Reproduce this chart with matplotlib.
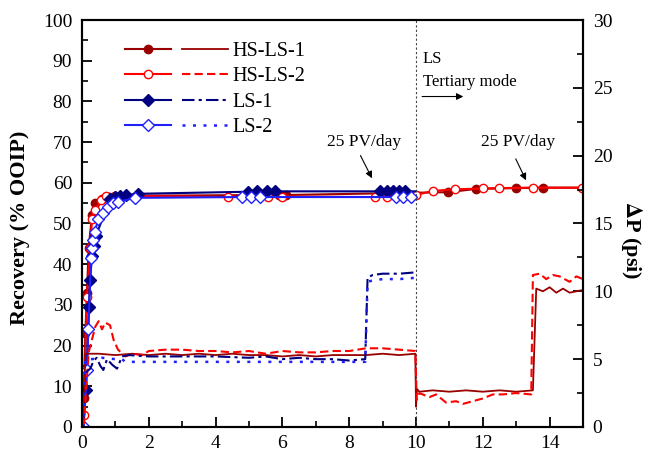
import numpy as np
import matplotlib
matplotlib.use("Agg")
import matplotlib.pyplot as plt
from matplotlib.ticker import MultipleLocator
from matplotlib.legend_handler import HandlerTuple

plt.rcParams['font.family'] = ['Liberation Serif', 'DejaVu Serif']
plt.rcParams['mathtext.fontset'] = 'stix'

# recovery (% OOIP) vs PV injected
hs1_x = [0.05, 0.1, 0.15, 0.2, 0.3, 0.4, 0.6, 0.8, 1.0, 5.9, 6.1, 10.97, 11.8, 13.0, 13.8]
hs1_y = [7, 23, 33, 44, 52, 55, 56, 56.5, 56.8, 57, 57, 57.7, 58.5, 58.7, 58.8]
hs2_x = [0.05, 0.15, 0.25, 0.3, 0.39, 0.57, 0.72, 1.0, 4.37, 5.57, 5.99, 8.77, 9.13,
         10.0, 10.5, 11.17, 12.0, 12.5, 13.5, 14.97]
hs2_y = [3, 32, 44, 51, 53.3, 55.8, 56.7, 56.8, 56.5, 56.6, 56.6, 56.5, 56.6,
         57, 58, 58.4, 58.6, 58.7, 58.8, 58.8]
ls1_x = [0.12, 0.21, 0.24, 0.3, 0.36, 0.42, 0.84, 0.99, 1.14, 1.32, 1.68,
         4.97, 5.24, 5.54, 5.78, 8.92, 9.12, 9.3, 9.5, 9.68]
ls1_y = [9, 29.5, 36, 42, 44.5, 47, 56, 56.5, 56.8, 57, 57.3,
         57.8, 57.9, 57.9, 57.9, 57.9, 57.9, 57.9, 57.9, 57.9]
ls2_x = [0.05, 0.15, 0.19, 0.27, 0.29, 0.33, 0.39, 0.48, 0.63, 0.78, 0.93, 1.08, 1.59,
         4.78, 5.07, 5.33, 9.4, 9.62, 9.86]
ls2_y = [0, 14, 24, 41.5, 44, 46, 48, 51, 52.5, 54, 55, 55.3, 56.3,
         56.5, 56.5, 56.5, 56.5, 56.5, 56.6]

# pressure drop (psi)
dp1_x = [0.05, 0.1, 0.5, 1.0, 1.5, 2.0, 2.5, 3.0, 3.5, 4.0, 4.5, 5.0, 5.5, 6.0, 6.5, 7.0,
         7.5, 8.0, 8.5, 9.0, 9.5, 9.98, 10.0, 10.03, 10.1, 10.5, 11.0, 11.5, 12.0, 12.5,
         13.0, 13.5, 13.6, 13.8, 14.0, 14.2, 14.4, 14.6, 14.8, 15.0]
dp1_y = [0, 5.4, 5.4, 5.3, 5.4, 5.3, 5.4, 5.3, 5.4, 5.3, 5.4, 5.3, 5.3, 5.2, 5.3, 5.2,
         5.3, 5.3, 5.3, 5.4, 5.3, 5.4, 1.5, 2.8, 2.6, 2.7, 2.6, 2.7, 2.6, 2.7,
         2.6, 2.7, 10.2, 10.0, 10.3, 9.9, 10.2, 9.9, 10.0, 10.1]
dp2_x = [0.05, 0.2, 0.4, 0.5, 0.6, 0.7, 0.84, 0.95, 1.08, 1.3, 1.5, 1.8, 2.0, 2.5, 3.0,
         3.5, 4.0, 4.5, 5.0, 5.5, 6.0, 6.5, 7.0, 7.5, 8.0, 8.5, 9.0, 9.5, 9.98, 10.02,
         10.1, 10.4, 10.6, 10.9, 11.2, 11.4, 11.7, 12.0, 12.3, 12.6, 13.0, 13.45, 13.5,
         13.7, 13.9, 14.1, 14.3, 14.6, 14.8, 15.0]
dp2_y = [0, 5.5, 7.4, 7.8, 7.2, 7.7, 7.5, 6.4, 5.7, 5.2, 5.4, 5.3, 5.6, 5.7, 5.7,
         5.6, 5.6, 5.5, 5.6, 5.4, 5.6, 5.5, 5.5, 5.6, 5.6, 5.8, 5.8, 5.7, 5.6, 2.0,
         2.5, 2.2, 2.4, 1.8, 1.9, 1.7, 1.9, 2.1, 2.4, 2.4, 2.5, 2.4, 11.2,
         11.3, 10.9, 11.2, 11.1, 10.7, 11.1, 10.9]
dp3_x = [0.1, 0.25, 0.35, 0.44, 0.55, 0.64, 0.75, 0.9, 1.05, 1.2, 1.4, 2.0, 3.0, 4.0,
         5.0, 5.5, 6.0, 6.5, 7.0, 7.5, 8.0, 8.48, 8.55, 8.7, 9.0, 9.5, 10.0]
dp3_y = [4.0, 4.3, 4.9, 5.1, 4.5, 4.2, 5.0, 4.6, 4.3, 5.2, 5.3, 5.2, 5.2, 5.2,
         5.1, 5.2, 5.0, 5.1, 5.0, 5.0, 4.9, 5.0, 11.0, 11.2, 11.3, 11.3, 11.4]
dp4_x = [0.05, 0.1, 0.3, 0.6, 1.0, 1.2, 1.3, 2.0, 4.0, 6.0, 8.0, 8.48, 8.55, 8.7,
         9.0, 9.5, 10.0]
dp4_y = [0, 5.0, 5.0, 5.1, 5.0, 5.0, 4.8, 4.8, 4.8, 4.8, 4.8, 4.8, 10.7, 10.8,
         10.9, 10.9, 11.0]

c_hs1 = '#990000'
c_hs2 = '#ff0000'
c_ls1 = '#000080'
c_ls2 = '#2020ff'

fig = plt.figure(figsize=(6.48, 4.61), dpi=100)
ax = fig.add_axes([0.1265, 0.0738, 0.7732, 0.8828])
ax2 = ax.twinx()

r1, = ax.plot(hs1_x + [15.0], hs1_y + [58.8], '-o', color=c_hs1, lw=1.5, ms=6,
              markevery=list(range(len(hs1_x))), mfc=c_hs1, mec=c_hs1)
r2, = ax.plot(hs2_x, hs2_y, '-o', color=c_hs2, lw=1.5, ms=6, mfc='white', mec=c_hs2)
r3, = ax.plot(ls1_x + [10.0], ls1_y + [57.9], '-D', color=c_ls1, lw=1.5, ms=6,
              markevery=list(range(len(ls1_x))), mfc=c_ls1, mec=c_ls1)
r4, = ax.plot(ls2_x + [10.0], ls2_y + [56.6], '-D', color=c_ls2, lw=1.5, ms=6,
              markevery=list(range(len(ls2_x))), mfc='white', mec=c_ls2)

p1, = ax2.plot(dp1_x, dp1_y, '-', color=c_hs1, lw=1.3)
p2, = ax2.plot(dp2_x, dp2_y, '--', color=c_hs2, lw=1.5, dashes=(4, 2))
p3, = ax2.plot(dp3_x, dp3_y, '-.', color=c_ls1, lw=1.5, dashes=(6, 2, 1.5, 2))
p4, = ax2.plot(dp4_x, dp4_y, ':', color=c_ls2, lw=1.8, dashes=(1.2, 3))

ax.axvline(10, color='#444444', lw=0.8, ls=(0, (2, 2)))

ax.set_xlim(0, 15)
ax.set_ylim(0, 100)
ax2.set_ylim(0, 30)
ax.xaxis.set_major_locator(MultipleLocator(2))
ax.xaxis.set_minor_locator(MultipleLocator(1))
ax.yaxis.set_major_locator(MultipleLocator(10))
ax.yaxis.set_minor_locator(MultipleLocator(5))
ax2.yaxis.set_major_locator(MultipleLocator(5))
ax2.yaxis.set_minor_locator(MultipleLocator(2.5))

for a in (ax, ax2):
    a.tick_params(which='major', direction='in', length=7, width=1.3, labelsize=14, pad=7)
    a.tick_params(which='minor', direction='in', length=4, width=1.2)
    for s in a.spines.values():
        s.set_linewidth(1.5)
ax.tick_params(axis='y', which='both', right=False)
ax.tick_params(axis='x', which='both', top=False, pad=6)

ax.set_ylabel('Recovery (% OOIP)', fontsize=16, fontweight='bold')
ax.yaxis.set_label_coords(-0.104, 0.489)
ax2.set_ylabel(r'$\mathbf{\Delta}$P (psi)', fontsize=16, fontweight='bold',
               rotation=270, va='bottom')
ax2.yaxis.set_label_coords(1.072, 0.459)

ax.annotate('', xy=(8.72, 60.5), xytext=(8.3, 67.3),
            arrowprops=dict(arrowstyle='-|>', color='black', lw=0.8, mutation_scale=10))
ax.text(8.45, 70, '25 PV/day', fontsize=12.5, ha='center', va='center')
ax.annotate('', xy=(13.33, 60), xytext=(12.95, 66.5),
            arrowprops=dict(arrowstyle='-|>', color='black', lw=0.8, mutation_scale=10))
ax.text(13.05, 70, '25 PV/day', fontsize=12.5, ha='center', va='center')
ax.text(10.2, 90.3, 'LS', fontsize=12, ha='left', va='center')
ax.text(10.2, 84.8, 'Tertiary mode', fontsize=12, ha='left', va='center')
ax.annotate('', xy=(11.5, 81.2), xytext=(10.1, 81.2),
            arrowprops=dict(arrowstyle='-|>', color='black', lw=0.8, mutation_scale=10))

ax.legend([(r1, p1), (r2, p2), (r3, p3), (r4, p4)],
          ['HS-LS-1', 'HS-LS-2', 'LS-1', 'LS-2'],
          handler_map={tuple: HandlerTuple(ndivide=None, pad=0.5)},
          loc='upper left', bbox_to_anchor=(0.05, 0.99), frameon=False,
          fontsize=14.5, handlelength=5.1, handletextpad=0.25, labelspacing=0.3)

fig.savefig('out.png', dpi=100)
